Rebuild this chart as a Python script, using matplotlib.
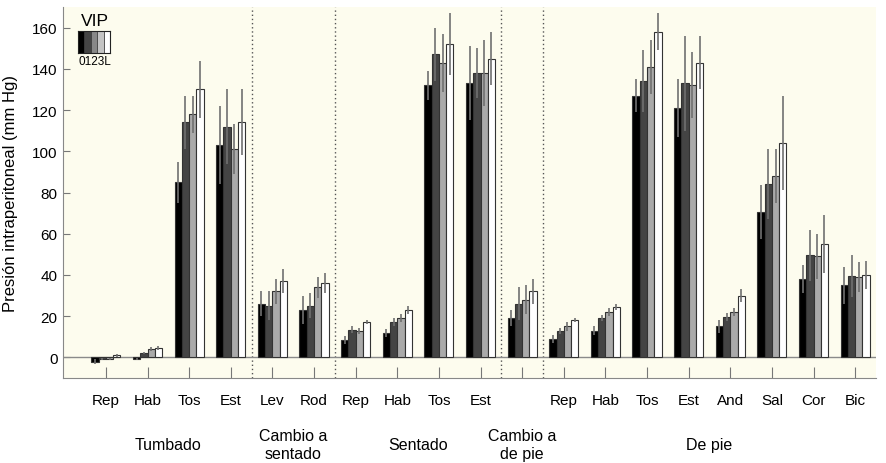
"""
Bar chart of intra-abdominal pressure by posture and activity, four VIP series.
"""
import numpy as np
import matplotlib
matplotlib.use("Agg")
import matplotlib.pyplot as plt
from matplotlib.patches import Rectangle

plt.rcParams.update({
    'font.family': ['Liberation Sans', 'DejaVu Sans'],
    'font.size': 11,
})

# --- data ---------------------------------------------------------------
activity_labels = ['Rep', 'Hab', 'Tos', 'Est',
                   'Lev', 'Rod',
                   'Rep', 'Hab', 'Tos', 'Est',
                   '',
                   'Rep', 'Hab', 'Tos', 'Est', 'And', 'Sal', 'Cor', 'Bic']
group_labels = ['Tumbado', 'Cambio a\nsentado', 'Sentado', 'Cambio a\nde pie', 'De pie']
group_sizes = [4, 2, 4, 1, 8]

vip0 = [-2, -1, 85, 103, 26, 23, 8.5, 12, 132, 133, 19, 9, 13, 127, 121, 15, 70.5, 38, 35]
vip1 = [-1, 2, 114, 112, 25, 25, 13.5, 17, 147, 138, 26, 13, 19, 134, 133, 19.5, 84, 49.5, 39.5]
vip2 = [-1, 4, 118, 101, 32, 34, 13, 19, 143, 138, 28, 15, 22, 141, 132, 22, 88, 49, 39]
vipL = [1, 4.5, 130, 114, 37, 36, 17, 23, 152, 145, 32, 18, 24.5, 158, 143, 30, 104, 55, 40]

err0 = [1, 0.5, 10, 19, 6, 7, 2, 2, 7, 18, 4, 2, 2, 8, 14, 3, 13, 7, 9]
err1 = [0.5, 0.5, 13, 18, 7, 6, 1.5, 2, 13, 12, 8, 1.5, 1.5, 15, 23, 2, 17, 12.5, 10]
err2 = [0.5, 1, 9, 12, 6, 5, 1.5, 2, 14, 16, 7, 2, 2, 13, 16, 2, 13, 11, 7.5]
errL = [0.7, 1, 14, 16, 6, 5, 1, 2, 15, 13, 6, 1, 1.5, 9, 13, 3, 23, 14, 7]

series = [vip0, vip1, vip2, vipL]
errors = [err0, err1, err2, errL]
bar_colors = ['#000000', '#444444', '#aaaaaa', '#ffffff']
legend_colors = ['#000000', '#444444', '#888888', '#c4c4c4', '#ffffff']

BG = '#fdfcee'

fig = plt.figure(figsize=(8.86, 4.64), dpi=100)
ax = fig.add_axes([63 / 886, 1 - 379 / 464, 813 / 886, 371 / 464])
ax.set_facecolor(BG)

x = np.arange(len(activity_labels))
w = 0.175
for k, (vals, errs, col) in enumerate(zip(series, errors, bar_colors)):
    xs = x + (k - 1.5) * w
    ax.bar(xs, vals, width=w, color=col, edgecolor='#333333', linewidth=0.8, zorder=3)
    ax.vlines(xs, np.array(vals) - np.array(errs), np.array(vals) + np.array(errs),
              color='#707070', linewidth=1.2, zorder=4)

# zero line
ax.axhline(0, color='#8a8a8a', linewidth=1, zorder=2)

# dotted dividers between posture groups
bounds = np.cumsum(group_sizes)[:-1] - 0.5
for b in bounds:
    ax.axvline(b, color='#555555', linestyle=(0, (1, 2)), linewidth=1, zorder=1)

ax.set_xlim(-1.03, len(activity_labels) - 0.5)
ax.set_ylim(-10, 170)
ax.set_yticks(range(0, 161, 20))
ax.set_xticks(x)
ax.set_xticklabels(activity_labels, fontsize=11)
ax.tick_params(axis='x', direction='in', length=8, pad=11, color='#777777')
ax.tick_params(axis='y', direction='in', length=5, pad=4, color='#777777', labelsize=11)

for s in ['top', 'right']:
    ax.spines[s].set_visible(False)
for s in ['left', 'bottom']:
    ax.spines[s].set_color('#888888')

ax.set_ylabel('Presión intraperitoneal (mm Hg)', fontsize=12)
ax.yaxis.set_label_coords(-0.055, 0.5)

# posture group labels
starts = np.concatenate([[0], np.cumsum(group_sizes)[:-1]])
for name, st, n in zip(group_labels, starts, group_sizes):
    ax.text(st + (n - 1) / 2, -0.178, name, transform=ax.get_xaxis_transform(),
            ha='center', va='center', fontsize=11.5, linespacing=1.25)

# VIP legend
lax = fig.add_axes([78 / 886, 1 - 54 / 464, 32 / 886, 22 / 464])
for i, c in enumerate(legend_colors):
    lax.add_patch(Rectangle((i, 0), 1, 1, facecolor=c, edgecolor='#333333', linewidth=0.5))
lax.set_xlim(0, len(legend_colors))
lax.set_ylim(0, 1)
lax.set_xticks([])
lax.set_yticks([])
for s in lax.spines.values():
    s.set_color('#222222')
    s.set_linewidth(0.8)
fig.text(95 / 886, 1 - 21 / 464, 'VIP', ha='center', va='center', fontsize=12.5)
fig.text(95 / 886, 1 - 62 / 464, '0123L', ha='center', va='center', fontsize=8.5)

fig.savefig('out.png', dpi=100, facecolor='white')
